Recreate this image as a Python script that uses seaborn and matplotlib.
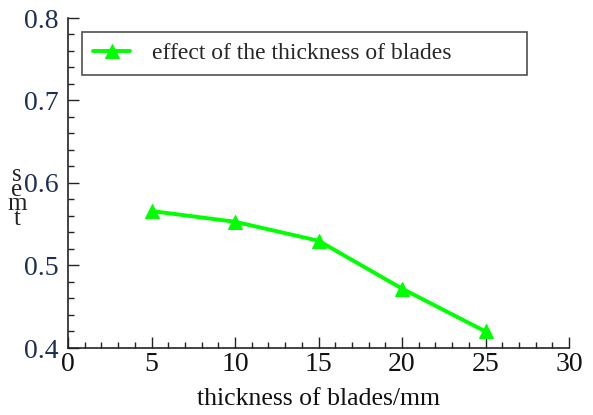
import matplotlib
matplotlib.use("Agg")
import matplotlib.pyplot as plt
import seaborn as sns
import pandas as pd
from matplotlib.ticker import MultipleLocator

thickness = [5, 10, 15, 20, 25]
effect = [0.566, 0.553, 0.530, 0.472, 0.420]
series_label = "effect of the thickness of blades"
x_label = "thickness of blades/mm"

df = pd.DataFrame({"thickness": thickness, "effect": effect})

sns.set_style("ticks")
plt.rcParams['font.family'] = ['Liberation Serif', 'DejaVu Serif']

fig = plt.figure(figsize=(5.93, 4.15), dpi=100)
ax = fig.add_axes([68/593, 1-348/415, 501/593, 330/415])

sns.lineplot(data=df, x="thickness", y="effect", ax=ax, color="#00FF00",
             linewidth=2.8, marker="^", markersize=10, markeredgecolor="#00FF00",
             label=series_label)

ax.set_xlim(0, 30)
ax.set_ylim(0.4, 0.8)
ax.xaxis.set_major_locator(MultipleLocator(5))
ax.xaxis.set_minor_locator(MultipleLocator(1))
ax.yaxis.set_major_locator(MultipleLocator(0.1))
ax.yaxis.set_minor_locator(MultipleLocator(0.02))
ax.set_yticklabels([f"{v:.1f}" for v in ax.get_yticks()])
ax.tick_params(axis="both", which="major", direction="in", length=8, width=1,
               labelsize=20, colors="#222")
ax.tick_params(axis="both", which="minor", direction="in", length=4, width=1, colors="#222")
ax.tick_params(axis="y", labelcolor="#1d2f55", pad=7)
ax.tick_params(axis="x", labelcolor="#111", pad=3)
for s in ["top", "right"]:
    ax.spines[s].set_visible(False)
for s in ["left", "bottom"]:
    ax.spines[s].set_color("#222")
    ax.spines[s].set_linewidth(1.2)

ax.set_xlabel(x_label, fontsize=18.5, labelpad=8, color="#111")
ax.set_ylabel("")
fig.text(17/593, 1-197/415, "s\ne\nm\nt", fontsize=18, ha="center", va="center",
         linespacing=0.55, color="#222")

leg = ax.legend(loc="upper left", bbox_to_anchor=(0.028, 0.958, 0.888, 0.0),
                mode="expand", borderaxespad=0, frameon=True, fancybox=False,
                fontsize=17, handlelength=1.6, borderpad=0.45, handletextpad=0.9)
leg.get_frame().set_edgecolor("#222")
leg.get_frame().set_linewidth(1.2)

fig.savefig("out.png", dpi=100)
